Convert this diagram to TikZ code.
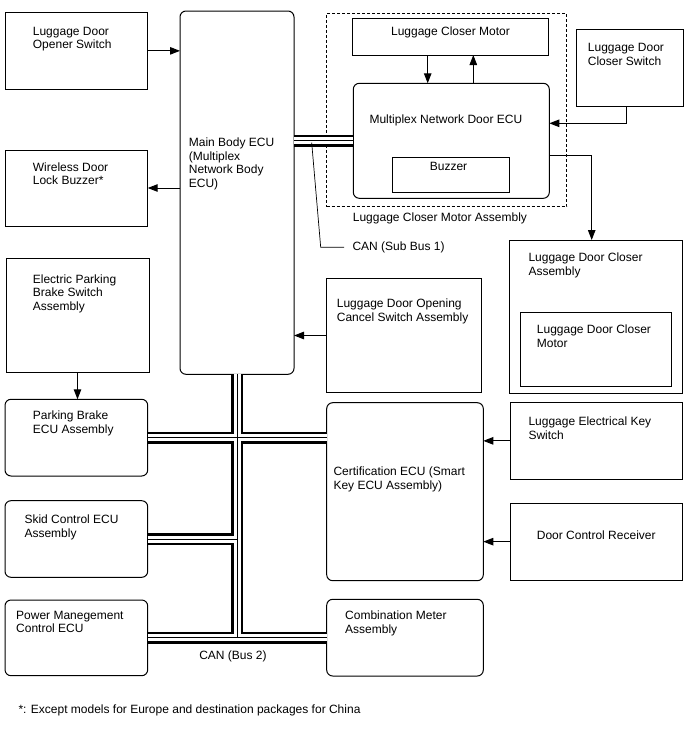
\documentclass[tikz,border=0pt]{standalone}
\usepackage{fontspec}
\setmainfont{Liberation Sans}
\usetikzlibrary{arrows.meta}

\begin{document}
\begin{tikzpicture}[x=1pt,y=-1pt,>={Triangle[length=10pt,width=7.5pt]},
    box/.style={draw,line width=1pt,inner sep=0pt,outer sep=0pt,anchor=north west},
    ecu/.style={box,rounded corners=6pt},
    txt/.style={inner sep=0pt,anchor=north west,align=left,font=\fontsize{12}{13.5}\selectfont},
    sig/.style={line width=1pt,->}]
    \useasboundingbox (0,0) rectangle (688,755);

    % left column
    \node[box,minimum width=142.7,minimum height=76.3] (ops) at (5,12.7) {};
    \node[txt] (t-ops) at (32.7,26.7) {Luggage Door\\Opener Switch};
    \node[box,minimum width=142.7,minimum height=76] (wlb) at (5,150) {};
    \node[txt] (t-wlb) at (32.7,162.3) {Wireless Door\\Lock Buzzer*};
    \node[box,minimum width=143,minimum height=114.4] (epb) at (6,258.3) {};
    \node[txt] (t-epb) at (32.7,274.3) {Electric Parking\\Brake Switch\\Assembly};
    \node[ecu,minimum width=142.7,minimum height=76.7] (pbe) at (5,399.3) {};
    \node[txt] (t-pbe) at (32.7,411) {Parking Brake\\ECU Assembly};
    \node[ecu,minimum width=142.7,minimum height=76.6] (skid) at (5,500.7) {};
    \node[txt] (t-skid) at (24.3,515) {Skid Control ECU\\Assembly};
    \node[ecu,minimum width=142.7,minimum height=75.7] (pmc) at (5,600) {};
    \node[txt] (t-pmc) at (16,611) {Power Manegement\\Control ECU};

    % main body ecu
    \node[ecu,minimum width=114,minimum height=363.3] (mbe) at (180,11) {};
    \node[txt] (t-mbe) at (188.7,138) {Main Body ECU\\(Multiplex\\Network Body\\ECU)};

    % middle column
    \node[box,minimum width=154.3,minimum height=114.4] (ocs) at (326.7,278.3) {};
    \node[txt] (t-ocs) at (336.7,299) {Luggage Door Opening\\Cancel Switch Assembly};
    \node[ecu,minimum width=156.6,minimum height=178] (cert) at (326.7,402.7) {};
    \node[txt] (t-cert) at (333.3,466.7) {Certification ECU (Smart\\Key ECU Assembly)};
    \node[ecu,minimum width=156.6,minimum height=76.7] (cmb) at (326.7,599.3) {};
    \node[txt] (t-cmb) at (345,611) {Combination Meter\\Assembly};

    % luggage closer motor assembly
    \node[box,dash pattern=on 3pt off 2pt,minimum width=240,minimum height=193.4] (lma) at (326.7,13.3) {};
    \node[txt] (t-lma) at (352.7,212.7) {Luggage Closer Motor Assembly};
    \node[box,minimum width=195.6,minimum height=36.7] (lcm) at (352.7,18.3) {};
    \node[txt,anchor=north] (t-lcm) at (lcm.north |- 0,26.7) {Luggage Closer Motor};
    \node[ecu,minimum width=196,minimum height=115] (dec) at (353.3,83.3) {};
    \node[txt] (t-dec) at (369.3,115) {Multiplex Network Door ECU};
    \node[box,minimum width=116.3,minimum height=34.6] (bzr) at (392.7,157.7) {};
    \node[txt,anchor=north] (t-bzr) at (448.5,161.7) {Buzzer};

    % right column
    \node[box,minimum width=106.6,minimum height=76.7] (lcs) at (576.7,29.3) {};
    \node[txt] (t-lcs) at (587.7,43.3) {Luggage Door\\Closer Switch};
    \node[box,minimum width=172.7,minimum height=153.3] (lda) at (509.3,240) {};
    \node[txt] (t-lda) at (528.3,252.7) {Luggage Door Closer\\Assembly};
    \node[box,minimum width=151.7,minimum height=74.2] (ldm) at (520,312.5) {};
    \node[txt] (t-ldm) at (536.7,325) {Luggage Door Closer\\Motor};
    \node[box,minimum width=172.3,minimum height=76.3] (key) at (510,402.7) {};
    \node[txt] (t-key) at (528.3,416.7) {Luggage Electrical Key\\Switch};
    \node[box,minimum width=172.3,minimum height=76.7] (rcv) at (510,503.3) {};
    \node[txt] (t-rcv) at (536.7,530.7) {Door Control Receiver};

    % can lines
    \coordinate (bustop) at (237,0 |- mbe.south);
    \coordinate (busend) at (237,0 |- pmc.east);
    \foreach \w/\c in {11.8pt/black,7pt/white,0.9pt/black} {
        \draw[line width=\w,color=\c] (mbe.east |- dec.west) -- (dec.west);
        \draw[line width=\w,color=\c] (bustop) -- (busend);
        \draw[line width=\w,color=\c] (pbe.east) -- (pbe.east -| cert.west);
        \draw[line width=\w,color=\c] (skid.east) -- (skid.east -| busend);
        \draw[line width=\w,color=\c] (pmc.east) -- (pmc.east -| cmb.west);
    }
    \node[txt] (t-can1) at (352.3,241.7) {CAN (Sub Bus 1)};
    \coordinate (ldr) at (344,247.3);
    \draw[line width=0.7pt] (311.7,142.7) -- (320.7,247.3) -- (ldr);
    \node[txt,anchor=north] (t-can2) at (233,651) {CAN (Bus 2)};

    % signal lines
    \draw[sig] (ops.east) -- (ops.east -| mbe.west);
    \draw[sig] (mbe.west |- wlb.east) -- (wlb.east);
    \draw[sig] (epb.south) -- (epb.south |- pbe.north);
    \draw[sig] (ocs.west) -- (ocs.west -| mbe.east);
    \draw[sig] (427.7,0 |- lcm.south) -- (427.7,0 |- dec.north);
    \draw[sig] (473.3,0 |- dec.north) -- (473.3,0 |- lcm.south);
    \draw[sig] (626.7,0 |- lcs.south) |- (dec.east |- 0,123.3);
    \draw[sig] (dec.east |- 0,155) -| (591.7,0 |- lda.north);
    \draw[sig] (key.west) -- (key.west -| cert.east);
    \draw[sig] (rcv.west) -- (rcv.west -| cert.east);

    \node[txt] (t-note) at (18.3,705) {*: Except models for Europe and destination packages for China};
\end{tikzpicture}
\end{document}
